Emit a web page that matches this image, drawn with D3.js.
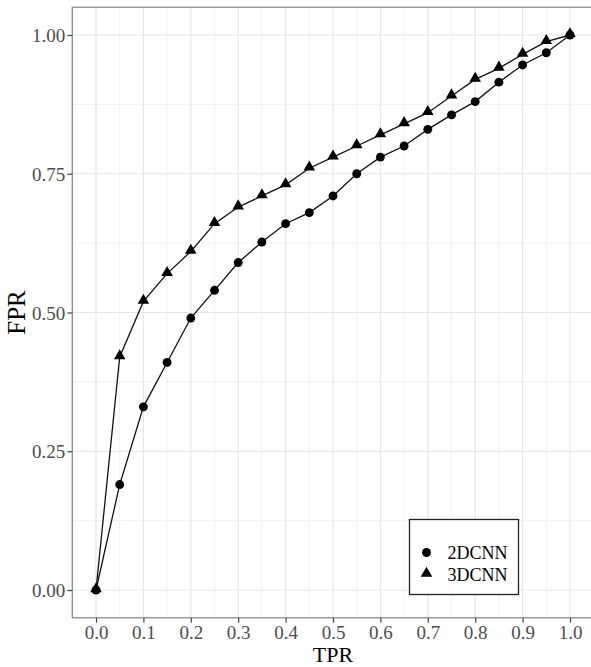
<!DOCTYPE html>
<html>
<head>
<meta charset="utf-8">
<script src="https://cdn.jsdelivr.net/npm/d3@7"></script>
<style>
  body { margin: 0; background: #fff; }
  text { font-family: "Liberation Serif", "Times New Roman", serif; }
</style>
</head>
<body>
<svg id="chart" width="591" height="667"></svg>
<script>
// ROC points, TPR at 0.05 steps
var tpr = [0, 0.05, 0.1, 0.15, 0.2, 0.25, 0.3, 0.35, 0.4, 0.45, 0.5,
           0.55, 0.6, 0.65, 0.7, 0.75, 0.8, 0.85, 0.9, 0.95, 1.0];
var fpr2D = [0, 0.19, 0.33, 0.41, 0.49, 0.54, 0.59, 0.627, 0.66, 0.68, 0.71,
             0.75, 0.78, 0.80, 0.83, 0.856, 0.88, 0.915, 0.946, 0.968, 1.0];
var fpr3D = [0, 0.42, 0.52, 0.57, 0.61, 0.66, 0.69, 0.71, 0.73, 0.76, 0.78,
             0.80, 0.82, 0.84, 0.86, 0.89, 0.92, 0.94, 0.965, 0.988, 1.0];
var seriesNames = ["2DCNN", "3DCNN"];
var xTicks = [0, 0.1, 0.2, 0.3, 0.4, 0.5, 0.6, 0.7, 0.8, 0.9, 1.0];
var yTicks = [0, 0.25, 0.5, 0.75, 1.0];

var svg = d3.select("#chart");

// panel box (ggplot style, 5% expansion)
var x = d3.scaleLinear().domain([-0.05, 1.05]).range([72.3, 593.7]);
var y = d3.scaleLinear().domain([-0.05, 1.05]).range([617.75, 7.25]);

var panel = svg.append("g");

// minor grid
var xMinor = d3.range(0.05, 1.0, 0.1);
var yMinor = [0.125, 0.375, 0.625, 0.875];
panel.selectAll(".xminor").data(xMinor).enter().append("line")
	.attr("x1", function(d){ return x(d); }).attr("x2", function(d){ return x(d); })
	.attr("y1", y(-0.05)).attr("y2", y(1.05))
	.attr("stroke", "#f2f2f2").attr("stroke-width", 1);
panel.selectAll(".yminor").data(yMinor).enter().append("line")
	.attr("y1", function(d){ return y(d); }).attr("y2", function(d){ return y(d); })
	.attr("x1", x(-0.05)).attr("x2", x(1.05))
	.attr("stroke", "#f2f2f2").attr("stroke-width", 1);

// major grid
panel.selectAll(".xmajor").data(xTicks).enter().append("line")
	.attr("x1", function(d){ return x(d); }).attr("x2", function(d){ return x(d); })
	.attr("y1", y(-0.05)).attr("y2", y(1.05))
	.attr("stroke", "#e6e6e6").attr("stroke-width", 1.2);
panel.selectAll(".ymajor").data(yTicks).enter().append("line")
	.attr("y1", function(d){ return y(d); }).attr("y2", function(d){ return y(d); })
	.attr("x1", x(-0.05)).attr("x2", x(1.05))
	.attr("stroke", "#e6e6e6").attr("stroke-width", 1.2);

// panel border
panel.append("rect")
	.attr("x", x(-0.05)).attr("y", y(1.05))
	.attr("width", x(1.05) - x(-0.05)).attr("height", y(-0.05) - y(1.05))
	.attr("fill", "none").attr("stroke", "#8c8c8c").attr("stroke-width", 1.3);

// axes
var xAxis = svg.append("g")
	.attr("transform", "translate(0," + y(-0.05) + ")")
	.call(d3.axisBottom(x).tickValues(xTicks).tickFormat(d3.format(".1f")).tickSize(5).tickPadding(3));
var yAxis = svg.append("g")
	.attr("transform", "translate(" + x(-0.05) + ",0)")
	.call(d3.axisLeft(y).tickValues(yTicks).tickFormat(d3.format(".2f")).tickSize(5).tickPadding(2));

[xAxis, yAxis].forEach(function(a) {
	a.select(".domain").remove();
	a.selectAll(".tick line").attr("stroke", "#444").attr("stroke-width", 1.2);
	a.selectAll(".tick text")
		.attr("fill", "#4d4d4d")
		.style("font-family", "'Liberation Serif', serif")
		.style("font-size", "19px");
});
yAxis.selectAll(".tick text").attr("dy", "0.35em");

// lines
var line = d3.line()
	.x(function(d){ return x(d[0]); })
	.y(function(d){ return y(d[1]); });

var data2D = tpr.map(function(t, i){ return [t, fpr2D[i]]; });
var data3D = tpr.map(function(t, i){ return [t, fpr3D[i]]; });

svg.append("path").datum(data2D)
	.attr("d", line).attr("fill", "none").attr("stroke", "#111").attr("stroke-width", 1.3);
svg.append("path").datum(data3D)
	.attr("d", line).attr("fill", "none").attr("stroke", "#111").attr("stroke-width", 1.3);

var circleSym = d3.symbol().type(d3.symbolCircle).size(62);
var triSym = d3.symbol().type(d3.symbolTriangle).size(58);

svg.selectAll(".p2d").data(data2D).enter().append("path")
	.attr("d", circleSym)
	.attr("transform", function(d){ return "translate(" + x(d[0]) + "," + y(d[1]) + ")"; })
	.attr("fill", "#000");
svg.selectAll(".p3d").data(data3D).enter().append("path")
	.attr("d", triSym)
	.attr("transform", function(d){ return "translate(" + x(d[0]) + "," + (y(d[1]) - 1) + ")"; })
	.attr("fill", "#000");

// axis titles
svg.append("text")
	.attr("x", (x(-0.05) + x(1.05)) / 2).attr("y", 662)
	.attr("text-anchor", "middle")
	.style("font-size", "22px").attr("fill", "#000")
	.text("TPR");
svg.append("text")
	.attr("transform", "translate(25," + ((y(-0.05) + y(1.05)) / 2) + ") rotate(-90)")
	.attr("text-anchor", "middle")
	.style("font-size", "25px").attr("fill", "#000")
	.text("FPR");

// legend
var legend = svg.append("g").attr("transform", "translate(409.5,519.5)");
legend.append("rect")
	.attr("width", 109).attr("height", 75)
	.attr("fill", "#fff").attr("stroke", "#222").attr("stroke-width", 1.3);
var legSyms = [circleSym, triSym];
seriesNames.forEach(function(name, i) {
	var cy = 33 + i * 22;
	legend.append("path")
		.attr("d", legSyms[i])
		.attr("transform", "translate(17," + (i === 1 ? cy - 1 : cy) + ")")
		.attr("fill", "#000");
	legend.append("text")
		.attr("x", 38).attr("y", cy).attr("dy", "0.35em")
		.style("font-size", "18px").attr("fill", "#000")
		.text(name);
});
</script>
</body>
</html>
